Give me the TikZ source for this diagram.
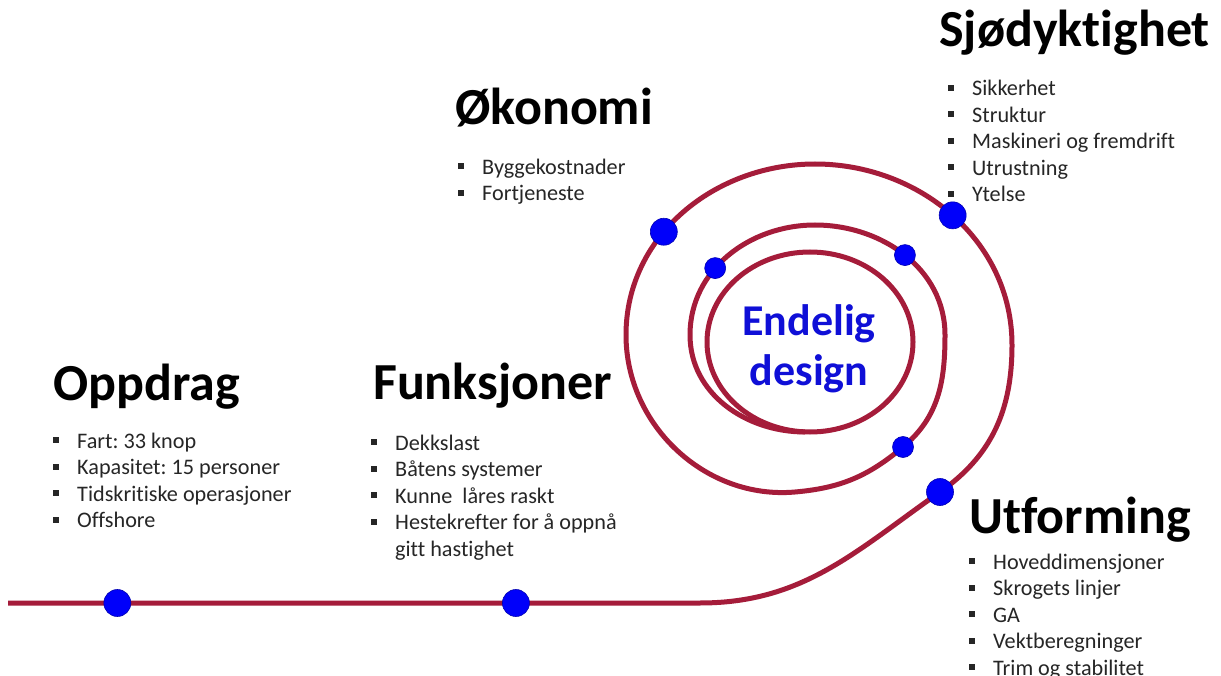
\documentclass[tikz,border=0pt]{standalone}
\usepackage{fontspec}
\setmainfont{Carlito}[Ligatures=NoCommon]
\frenchspacing
\definecolor{spiralred}{RGB}{165,28,58}
\definecolor{dotblue}{RGB}{0,0,250}
\definecolor{finalblue}{RGB}{15,15,215}
\newcommand{\blt}{\makebox[24pt][l]{\rule[5pt]{6pt}{6pt}}}
\begin{document}
\begin{tikzpicture}[x=1pt,y=1pt,
  title/.style={anchor=base west,inner sep=0pt,font=\fontsize{52}{60}\selectfont\bfseries},
  items/.style={anchor=base west,inner sep=0pt,align=left,text=black!85,font=\fontsize{22.2}{26.5}\selectfont},
  bigdot/.style={circle,fill=dotblue,draw=blue!70!black,line width=0.6pt,minimum size=27pt,inner sep=0pt},
  smalldot/.style={bigdot,minimum size=21pt},
  spiral/.style={draw=spiralred,line width=5pt}]
\fill[white] (0,0) rectangle (1221,-676);
\useasboundingbox (0,0) rectangle (1221,-676);

% the design spiral
\path[spiral] (8,-603) -- (700,-603)
  node[bigdot,pos=0.158] (oppdragdot) {} node[bigdot,pos=0.734] (funkdot) {}
  to[out=0,in=215] (940,-492) node[bigdot] (utformdot) {}
  to[out=35,in=270] (1012,-345)
  to[out=90,in=0] node[bigdot,pos=0.5] (sjodot) {} (815,-164)
  to[out=180,in=90] node[bigdot,pos=0.6] (okodot) {} (626,-335)
  to[out=270,in=185] (795,-492)
  to[out=5,in=220] (903,-447) node[smalldot] (utformdot2) {}
  to[out=40,in=270] (945,-335)
  to[out=90,in=0] node[smalldot,pos=0.5] (sjodot2) {} (815,-225)
  to[out=180,in=90] node[smalldot,pos=0.6] (okodot2) {} (690,-335)
  to[out=270,in=180] (805,-432);
\draw[spiral] (810,-342) ellipse[x radius=103,y radius=90];

\node[align=center,inner sep=0pt,text=finalblue,font=\fontsize{44}{50}\selectfont\bfseries] (final) at (809,-349) {Endelig\\design};

% headings and lists (lists sit on their last line)
\node[title] (oppdrag) at (53,-400) {Oppdrag};
\node[items] (oppdraglist) at (53,-527.5) {\blt Fart: 33 knop\\ \blt Kapasitet: 15 personer\\ \blt Tidskritiske operasjoner\\ \blt Offshore};

\node[title] (funk) at (373,-399) {Funksjoner};
\node[items] (funklist) at (371,-556) {\blt Dekkslast\\ \blt Båtens systemer\\ \blt Kunne\ \ låres raskt\\ \blt Hestekrefter for å oppnå\\ \hspace*{24pt}gitt hastighet};

\node[title] (oko) at (455,-125) {Økonomi};
\node[items] (okolist) at (458,-201) {\blt Byggekostnader\\ \blt Fortjeneste};

\node[title] (sjo) at (939,-47) {Sjødyktighet};
\node[items] (sjolist) at (948,-202) {\blt Sikkerhet\\ \blt Struktur\\ \blt Maskineri og fremdrift\\ \blt Utrustning\\ \blt Ytelse};

\node[title] (utform) at (969,-533) {Utforming};
\node[items] (utformlist) at (969,-675) {\blt Hoveddimensjoner\\ \blt Skrogets linjer\\ \blt GA\\ \blt Vektberegninger\\ \blt Trim og stabilitet};
\end{tikzpicture}
\end{document}
